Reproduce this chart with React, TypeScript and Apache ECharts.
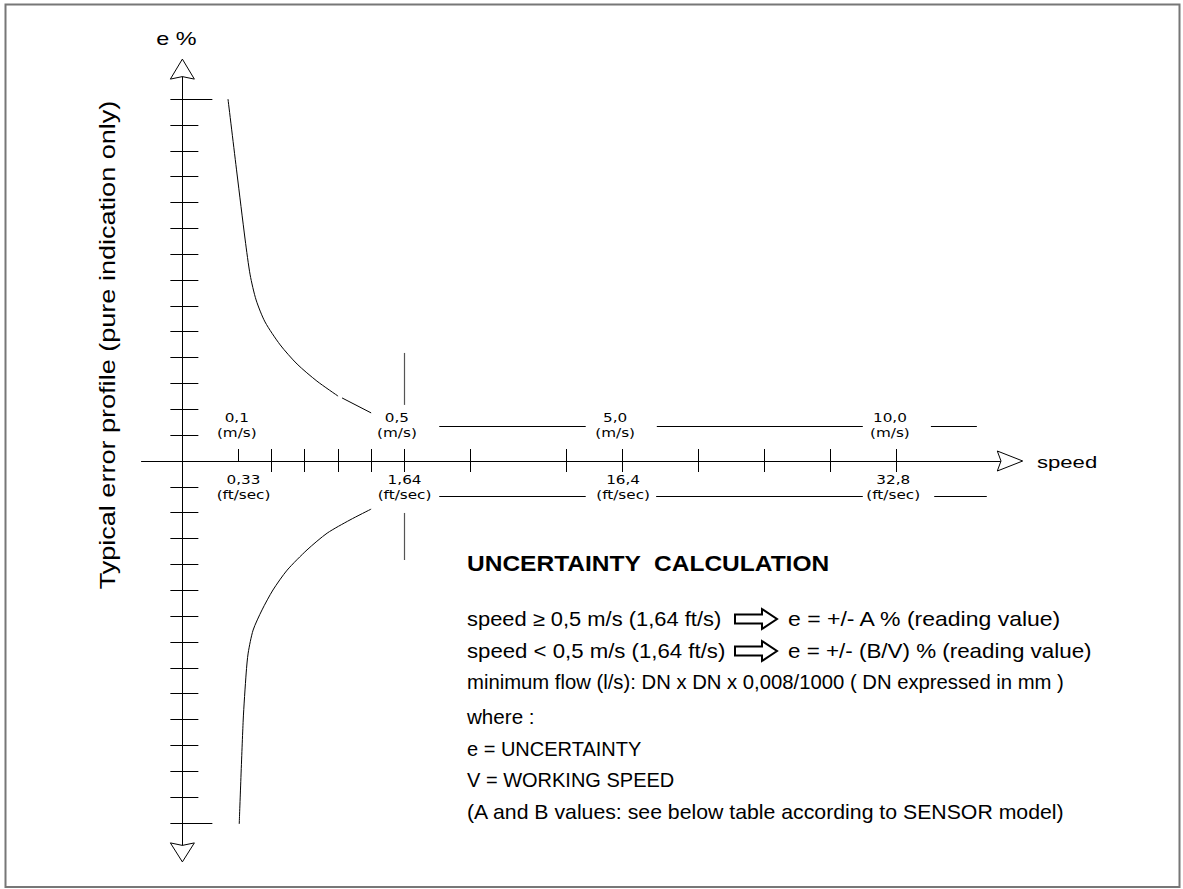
import React, { useEffect, useRef } from "react";
import * as echarts from "echarts";

const CHART_W = 1183;
const CHART_H = 889;

// Schematic drawing units: x = position along the speed axis, y = error-% divisions
const X_RANGE = [-1.23, 24.76];
const Y_RANGE = [-14.87, 14.87];

const X_TICKS = [1.7, 2.7, 3.7, 4.7, 5.7, 6.7, 8.7, 11.6, 13.3, 15.6, 17.6, 19.6, 21.6];
const X_TICKS_BELOW = [2.7, 3.7, 4.7, 5.7, 6.7, 8.7, 11.6, 13.3, 15.6, 17.6, 19.6, 21.6];
const Y_TICKS = [-14, -13, -12, -11, -10, -9, -8, -7, -6, -5, -4, -3, -2, -1, 1, 2, 3, 4, 5, 6, 7, 8, 9, 10, 11, 12, 13, 14];
const Y_END_TICKS = [-14, 14];

const MS_VALUES = ["0,1", "0,5", "5,0", "10,0"];
const MS_LABEL_X = [1.645, 6.49, 13.09, 21.4];
const MS_LABEL_Y = 1.38;
const MS_UNIT = "(m/s)";
const FT_VALUES = ["0,33", "1,64", "16,4", "32,8"];
const FT_LABEL_X = [1.85, 6.72, 13.33, 21.5];
const FT_LABEL_Y = -1.02;
const FT_UNIT = "(ft/sec)";

const DIM_LINE_Y = 1.354;
const MS_DIM_SEGMENTS = [[7.77, 12.2], [14.35, 20.58], [22.64, 24.03]];
const FT_DIM_SEGMENTS = [[7.77, 12.2], [14.33, 20.58], [22.74, 24.33]];
const MARKER_X = 6.72;
const MARKER_SEGMENTS = [[2.17, 4.18], [-3.83, -2.01]];

const UPPER_CURVE_A = [
  [1.38, 14.0], [1.65, 11.14], [1.9, 8.55], [2.05, 7.2], [2.23, 6.23], [2.5, 5.38],
  [2.96, 4.49], [3.47, 3.75], [4.07, 3.09], [4.71, 2.51],
];
const UPPER_CURVE_B = [[4.83, 2.44], [5.71, 1.86]];
const LOWER_CURVE = [
  [5.71, -1.86], [5.07, -2.28], [4.38, -2.79], [3.77, -3.44], [3.17, -4.22], [2.74, -4.99],
  [2.41, -5.76], [2.14, -6.54], [1.99, -7.43], [1.93, -8.2], [1.84, -10.02], [1.72, -14.04],
];

const Y_TITLE = "Typical error profile (pure indication only)";
const Y_NAME = "e %";
const X_NAME = "speed";
const NOTE_TITLE = "UNCERTAINTY  CALCULATION";
const NOTE_RULE1_L = "speed \u2265 0,5 m/s (1,64 ft/s)";
const NOTE_RULE1_R = "e = +/- A % (reading value)";
const NOTE_RULE2_L = "speed < 0,5 m/s (1,64 ft/s)";
const NOTE_RULE2_R = "e = +/- (B/V) % (reading value)";
const NOTE_LINES = [
  "minimum flow (l/s): DN x DN x 0,008/1000 ( DN expressed in mm )",
  "where :",
  "e = UNCERTAINTY",
  "V = WORKING SPEED",
  "(A and B values: see below table according to SENSOR model)",
];

const FONT_MAIN = '"Liberation Sans", Arial, sans-serif';
const FONT_TICK = '"DejaVu Sans", Verdana, sans-serif';

function hollowArrow(x0: number, cy: number) {
  return {
    type: "polygon",
    shape: {
      points: [
        [x0, cy - 4.5], [x0 + 27, cy - 4.5], [x0 + 27, cy - 10], [x0 + 42, cy],
        [x0 + 27, cy + 10], [x0 + 27, cy + 4.5], [x0, cy + 4.5],
      ],
    },
    style: { fill: "#fff", stroke: "#000", lineWidth: 2 },
    silent: true,
  };
}

function txt(x: number, y: number, text: string, font: string, extra: any = {}) {
  return {
    type: "text",
    x,
    y,
    silent: true,
    ...extra,
    style: {
      text,
      font,
      fill: "#000",
      align: extra.align || "left",
      textAlign: extra.align || "left",
      verticalAlign: "middle",
      textVerticalAlign: "middle",
    },
  };
}

export default function App() {
  const ref = useRef<HTMLDivElement>(null);

  useEffect(() => {
    if (!ref.current) return;
    const chart = echarts.init(ref.current, null, { renderer: "svg" });

    const baseAxis = {
      type: "value",
      splitLine: { show: false },
      axisLabel: { show: false },
    };
    const xAxisBase = { ...baseAxis, min: X_RANGE[0], max: X_RANGE[1] };
    const yAxisBase = { ...baseAxis, min: Y_RANGE[0], max: Y_RANGE[1] };
    const black = { color: "#000", width: 1 };

    const option: any = {
      animation: false,
      backgroundColor: "#fff",
      grid: {
        left: 141.7,
        right: CHART_W - 1001,
        top: 76.6,
        bottom: CHART_H - 845.4,
        outerBoundsMode: "none",
      },
      xAxis: [
        {
          ...xAxisBase,
          position: "bottom",
          axisLine: { show: true, onZero: true, onZeroAxisIndex: 0, lineStyle: black },
          axisTick: { show: true, customValues: X_TICKS_BELOW, length: 11, lineStyle: black },
        },
        {
          ...xAxisBase,
          position: "top",
          axisLine: { show: true, onZero: true, onZeroAxisIndex: 0, lineStyle: black },
          axisTick: { show: true, customValues: X_TICKS, length: 12, lineStyle: black },
        },
        {
          ...xAxisBase,
          position: "bottom",
          axisLine: { show: false, onZero: false },
          axisTick: { show: false },
        },
      ],
      yAxis: [
        {
          ...yAxisBase,
          position: "left",
          axisLine: { show: true, onZero: true, onZeroAxisIndex: 0, lineStyle: black },
          axisTick: { show: true, customValues: Y_TICKS, length: 12, lineStyle: black },
        },
        {
          ...yAxisBase,
          position: "right",
          axisLine: { show: true, onZero: true, onZeroAxisIndex: 0, lineStyle: black },
          axisTick: { show: true, customValues: Y_TICKS, length: 16, lineStyle: black },
        },
        {
          ...yAxisBase,
          position: "right",
          axisLine: { show: true, onZero: true, onZeroAxisIndex: 0, lineStyle: black },
          axisTick: { show: true, customValues: Y_END_TICKS, length: 30, lineStyle: black },
        },
      ],
      series: [
        {
          type: "line",
          data: UPPER_CURVE_A,
          smooth: 0.25,
          symbol: "none",
          lineStyle: { color: "#000", width: 1 },
          silent: true,
        },
        {
          type: "line",
          data: UPPER_CURVE_B,
          symbol: "none",
          lineStyle: { color: "#000", width: 1 },
          silent: true,
        },
        {
          type: "line",
          data: LOWER_CURVE,
          smooth: 0.25,
          symbol: "none",
          lineStyle: { color: "#000", width: 1 },
          silent: true,
        },
        {
          type: "lines",
          coordinateSystem: "cartesian2d",
          silent: true,
          lineStyle: { color: "#000", width: 1, opacity: 1 },
          data: [
            ...MS_DIM_SEGMENTS.map(([a, b]) => ({ coords: [[a, DIM_LINE_Y], [b, DIM_LINE_Y]] })),
            ...FT_DIM_SEGMENTS.map(([a, b]) => ({ coords: [[a, -DIM_LINE_Y], [b, -DIM_LINE_Y]] })),
          ],
        },
        {
          type: "lines",
          coordinateSystem: "cartesian2d",
          silent: true,
          lineStyle: { color: "#555", width: 1.2, opacity: 1 },
          data: MARKER_SEGMENTS.map(([a, b]) => ({ coords: [[MARKER_X, a], [MARKER_X, b]] })),
        },
        {
          type: "custom",
          silent: true,
          clip: false,
          data: MS_LABEL_X.map((x) => [x, MS_LABEL_Y]),
          renderItem: (params: any, api: any) => {
            const p = api.coord([api.value(0), api.value(1)]);
            return {
              type: "text",
              x: p[0],
              y: p[1],
              scaleX: 1.27,
              style: {
                text: MS_VALUES[params.dataIndex] + "\n" + MS_UNIT,
                font: "12px " + FONT_TICK,
                fill: "#000",
                align: "center",
                verticalAlign: "middle",
                lineHeight: 15,
              },
            };
          },
        },
        {
          type: "custom",
          silent: true,
          clip: false,
          data: FT_LABEL_X.map((x) => [x, FT_LABEL_Y]),
          renderItem: (params: any, api: any) => {
            const p = api.coord([api.value(0), api.value(1)]);
            return {
              type: "text",
              x: p[0],
              y: p[1],
              scaleX: 1.27,
              style: {
                text: FT_VALUES[params.dataIndex] + "\n" + FT_UNIT,
                font: "12px " + FONT_TICK,
                fill: "#000",
                align: "center",
                verticalAlign: "middle",
                lineHeight: 15,
              },
            };
          },
        },
        {
          type: "custom",
          silent: true,
          clip: false,
          data: [
            [0, Y_RANGE[1], 0],
            [0, Y_RANGE[0], 1],
            [X_RANGE[1], 0, 2],
          ],
          renderItem: (params: any, api: any) => {
            const p = api.coord([api.value(0), api.value(1)]);
            const d = api.value(2);
            let pts: number[][];
            if (d === 0) {
              pts = [[p[0], p[1] - 17.5], [p[0] + 12, p[1] + 2.5], [p[0], p[1]], [p[0] - 12, p[1] + 2.5]];
            } else if (d === 1) {
              pts = [[p[0], p[1] + 16.5], [p[0] + 12, p[1] - 2.5], [p[0], p[1]], [p[0] - 12, p[1] - 2.5]];
            } else {
              pts = [[p[0] + 21.7, p[1]], [p[0] - 3.7, p[1] - 10], [p[0], p[1]], [p[0] - 3.7, p[1] + 10]];
            }
            return {
              type: "polygon",
              shape: { points: pts },
              style: { fill: "#fff", stroke: "#000", lineWidth: 1 },
            };
          },
        },
      ],
      graphic: [
        {
          type: "rect",
          shape: { x: 5.5, y: 4.5, width: 1174, height: 882.5 },
          style: { fill: "none", stroke: "#777", lineWidth: 2 },
          silent: true,
        },
        txt(107, 345, Y_TITLE, "22px " + FONT_MAIN, { rotation: Math.PI / 2, scaleX: 1.23, align: "center" }),
        txt(176.5, 38.5, Y_NAME, "18px " + FONT_MAIN, { scaleX: 1.3, align: "center" }),
        txt(1037, 462, X_NAME, "17px " + FONT_MAIN, { scaleX: 1.3 }),
        txt(467, 563, NOTE_TITLE, "bold 22px " + FONT_MAIN, { scaleX: 1.115 }),
        txt(467, 619, NOTE_RULE1_L, "20px " + FONT_MAIN, { scaleX: 1.095 }),
        hollowArrow(735, 619),
        txt(788, 619, NOTE_RULE1_R, "20px " + FONT_MAIN, { scaleX: 1.15 }),
        txt(467, 651, NOTE_RULE2_L, "20px " + FONT_MAIN, { scaleX: 1.11 }),
        hollowArrow(735, 651),
        txt(788, 651, NOTE_RULE2_R, "20px " + FONT_MAIN, { scaleX: 1.12 }),
        txt(467, 682, NOTE_LINES[0], "20px " + FONT_MAIN, { scaleX: 1.014 }),
        txt(467, 717, NOTE_LINES[1], "20px " + FONT_MAIN, { scaleX: 1.03 }),
        txt(467, 749, NOTE_LINES[2], "20px " + FONT_MAIN, { scaleX: 1.0 }),
        txt(467, 780, NOTE_LINES[3], "20px " + FONT_MAIN, { scaleX: 1.0 }),
        txt(467, 812, NOTE_LINES[4], "20px " + FONT_MAIN, { scaleX: 1.064 }),
      ],
    };

    chart.setOption(option);
    return () => chart.dispose();
  }, []);

  return (
    <div
      ref={ref}
      style={{ position: "absolute", left: 0, top: 0, width: CHART_W, height: CHART_H, background: "#fff" }}
    />
  );
}
